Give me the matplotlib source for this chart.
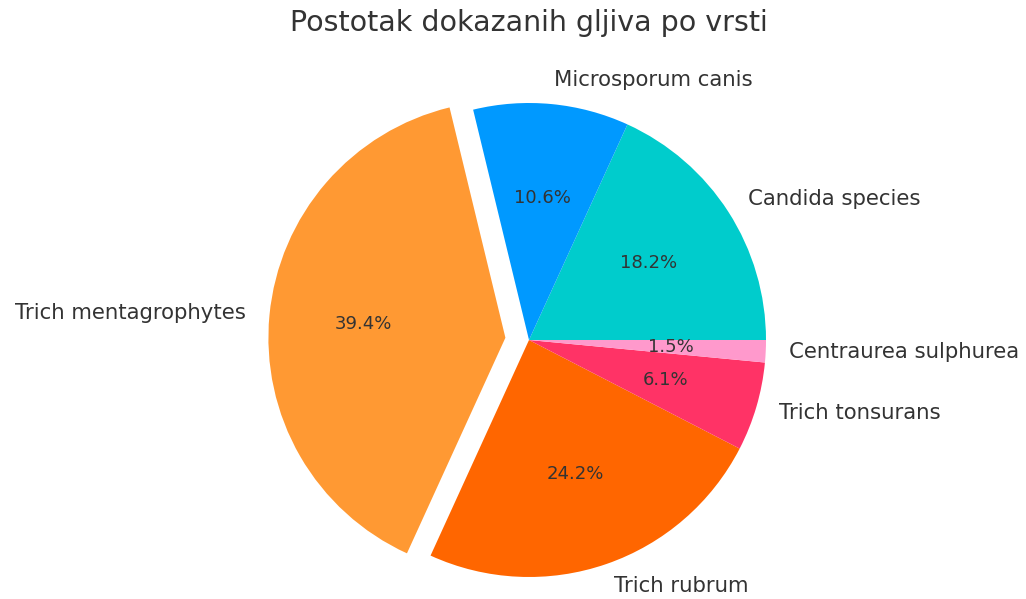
import matplotlib
matplotlib.use("Agg")
import matplotlib.pyplot as plt

# data (counts read as shares of 66 samples)
species = ["Candida species", "Microsporum canis", "Trich mentagrophytes",
           "Trich rubrum", "Trich tonsurans", "Centraurea sulphurea"]
counts = [12, 7, 26, 16, 4, 1]
colors = ["#00CCCC", "#0099FF", "#FF9933", "#FF6600", "#FF3366", "#FF99CC"]
explode = [0, 0, 0.1, 0, 0, 0]

W, H = 1026, 599
cx, cy, r = 529, 259, 237   # pie centre (px from left/bottom) and radius in px

fig = plt.figure(figsize=(W / 100, H / 100), dpi=100)
ax = fig.add_axes([0, 0, 1, 1])

wedges, texts, autotexts = ax.pie(
    counts, labels=species, colors=colors, explode=explode,
    autopct="%1.1f%%", startangle=0, labeldistance=1.1,
    textprops=dict(color="#333333", fontsize=15.3),
)
for t in autotexts:
    t.set_fontsize(13)

ax.set_xlim(-cx / r, (W - cx) / r)
ax.set_ylim(-cy / r, (H - cy) / r)
ax.set_aspect("auto")
ax.axis("off")

fig.text(cx / W, 1 - 23 / H, "Postotak dokazanih gljiva po vrsti",
         ha="center", va="center", fontsize=20.5, color="#333333")

fig.savefig("out.png", dpi=100)
